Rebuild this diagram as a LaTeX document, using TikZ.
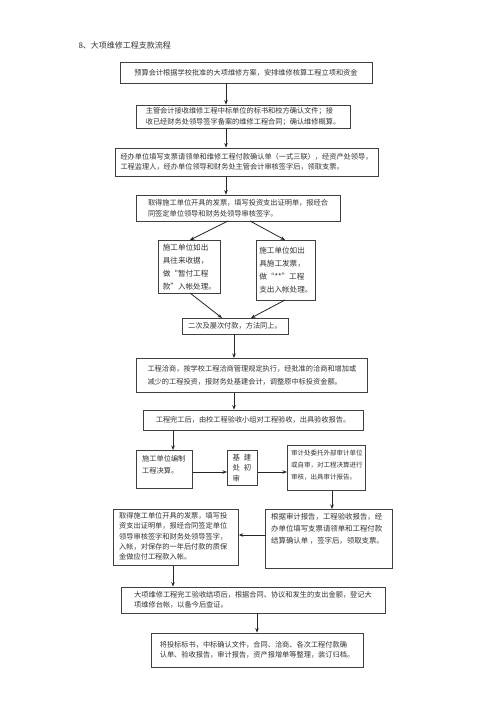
\documentclass[tikz,border=0pt]{standalone}
\usepackage{fontspec}
\newfontfamily\cjk{Noto Sans CJK SC}
\usetikzlibrary{arrows.meta}
\begin{document}
\begin{tikzpicture}[x=1pt,y=-1pt,
  box/.style={draw=black!75,line width=0.8pt,inner sep=0pt,align=left,
    font=\cjk\fontsize{7.2}{10.5}\selectfont,text=black!80},
  arr/.style={line width=0.8pt,draw=black!85,-{Stealth[length=4.5pt,width=3.5pt]}}]
\useasboundingbox (0,0) rectangle (500,707);
\fill[white] (0,0) rectangle (500,707);
\node[anchor=west,font=\cjk\fontsize{8}{10}\selectfont,text=black!80] (title) at (75,45) {8、大项维修工程支款流程};
\newcommand\bx[6]{\node[box,minimum width=#3-#2,minimum height=#5-#4] (#1) at ({(#2+#3)/2},{(#4+#5)/2}) {#6};}
\bx{b1}{120}{372}{62}{83}{预算会计根据学校批准的大项维修方案，安排维修核算工程立项和资金}
\bx{b2}{136}{350}{105}{128}{主管会计接收维修工程中标单位的标书和校方确认文件；接\\收已经财务处领导签字备案的维修工程合同；确认维修概算。}
\bx{b3}{115}{378}{148}{176}{经办单位填写支票请领单和维修工程付款确认单（一式三联），经资产处领导，\\工程监理人，经办单位领导和财务处主管会计审核签字后，领取支票。}
\bx{b4}{136}{340}{195}{221}{取得施工单位开具的发票，填写投资支出证明单，报经合\\同签定单位领导和财务处领导审核签字。}
\node[box,minimum width=62,minimum height=53,anchor=north west,font=\cjk\fontsize{7.6}{13}\selectfont] (b5) at (158,240) {施工单位如出\\具往来收据，\\做“暂付工程\\款”入帐处理。};
\node[box,minimum width=59,minimum height=60,anchor=north west,font=\cjk\fontsize{7.6}{13}\selectfont] (b5r) at (256,240) {施工单位如出\\具施工发票，\\做“**”工程\\支出入帐处理。};
\bx{b6}{182}{288}{318}{334}{二次及屡次付款，方法同上。}
\node[box,minimum width=231,minimum height=34,anchor=north west,font=\cjk\fontsize{7.2}{13}\selectfont] (b7) at (136,358) {工程洽商，按学校工程洽商管理规定执行，经批准的洽商和增加或\\减少的工程投资，报财务处基建会计，调整原中标投资金额。};
\bx{b8}{143}{363}{410}{430}{工程完工后，由校工程验收小组对工程验收，出具验收报告。}
\node[box,minimum width=56,minimum height=38,anchor=north west] (b9) at (136,450) {};
\node[anchor=north west,font=\cjk\fontsize{7.2}{12}\selectfont,text=black!80,align=left,inner sep=0pt] (t9) at (142,455) {施工单位编制\\工程决算。};
\node[box,minimum width=30,minimum height=35,anchor=north west] (b10) at (227,450) {};
\node[anchor=north,font=\cjk\fontsize{7.4}{10.5}\selectfont,text=black!80,align=left,inner sep=0pt] (t10) at (242,454) {基\hspace{4pt}建\\处\hspace{4pt}初\\审};
\node[box,minimum width=78,minimum height=45,anchor=north west] (b11) at (287,445) {};
\node[anchor=north west,font=\cjk\fontsize{6.5}{12}\selectfont,text=black!80,align=left,inner sep=0pt] (t11) at (291,450) {审计处委托外部审计单位\\或自审，对工程决算进行\\审核，出具审计报告。};
\node[box,minimum width=127,minimum height=59,anchor=north west] (b12) at (265,509) {};
\node[anchor=north west,font=\cjk\fontsize{7.4}{12}\selectfont,text=black!80,align=left,inner sep=0pt] (t12) at (271,513) {根据审计报告，工程验收报告，经\\办单位填写支票请领单和工程付款\\结算确认单 ，签字后，领取支票。};
\node[box,minimum width=125,minimum height=56,anchor=north west] (b13) at (113,509) {};
\node[anchor=north west,font=\cjk\fontsize{7.2}{10.4}\selectfont,text=black!80,align=left,inner sep=0pt] (t13) at (119,512) {取得施工单位开具的发票，填写投\\资支出证明单，报经合同签定单位\\领导审核签字和财务处领导签字，\\入帐，对保存的一年后付款的质保\\金做应付工程款入帐。};
\bx{b14}{121}{385}{587}{613}{大项维修工程完工验收结项后，根据合同、协议和发生的支出金额，登记大\\项维修台帐，以备今后查证。}
\bx{b15}{151}{363}{633}{667}{将投标标书，中标确认文件，合同、洽商、各次工程付款确\\认单、验收报告，审计报告，资产报增单等整理，装订归档。}
% connector x/y positions
\coordinate (xa) at (226,0);
\coordinate (xb) at (234,0);
\coordinate (xc) at (173,0);
\coordinate (xd) at (332,0);
\coordinate (xe) at (257,0);
\coordinate (ya) at (0,472);
\coordinate (yb) at (0,535);
\draw[arr] (b1.south -| xa) -- (b2.north -| xa);
\draw[arr] (b2.south -| xa) -- (b3.north -| xa);
\draw[arr] (b3.south -| xa) -- (b4.north -| xa);
\coordinate (d1) at (228,221);
\coordinate (d2) at (250,221);
\coordinate (e1) at (190,240);
\coordinate (e2) at (285,240);
\draw[arr] (d1) -- (e1);
\draw[arr] (d2) -- (e2);
\coordinate (f1) at (190,293);
\coordinate (f2) at (285,300);
\coordinate (g1) at (222,318);
\coordinate (g2) at (251,318);
\draw[arr] (f1) -- (g1);
\draw[arr] (f2) -- (g2);
\draw[arr] (b6.south -| xb) -- (b7.north -| xb);
\draw[arr] (b7.south -| xb) -- (b8.north -| xb);
\draw[arr] (b8.south -| xc) -- (b9.north -| xc);
\draw[arr] (b9.east |- ya) -- (b10.west |- ya);
\draw[arr] (b10.east |- ya) -- (b11.west |- ya);
\draw[arr] (b11.south -| xd) -- (b12.north -| xd);
\draw[arr] (b12.west |- yb) -- (b13.east |- yb);
\draw[arr] (b13.south -| xc) -- (b14.north -| xc);
\draw[arr] (b14.south -| xe) -- (b15.north -| xe);
\end{tikzpicture}
\end{document}
